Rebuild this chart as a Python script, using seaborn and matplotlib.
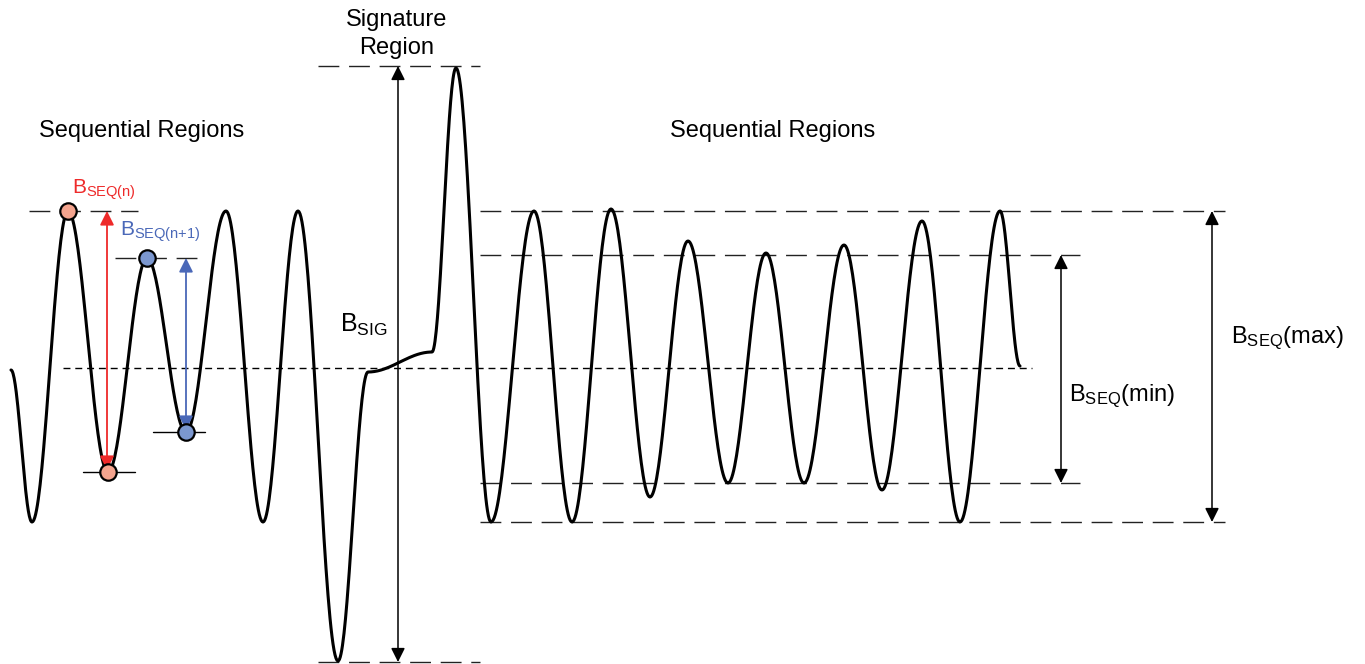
import numpy as np
import pandas as pd
import seaborn as sns
import matplotlib.pyplot as plt

## waveform extrema (pixel-like coords, y grows downward)
wave_x = [11, 32, 68, 108, 147, 186, 226, 263, 298, 338, 368, 432, 456, 491,
          534, 572, 611, 650, 688, 728, 766, 804, 844, 882, 922, 960, 1000, 1020]
wave_y = [370, 522, 211, 472, 258, 432, 211, 522, 211, 661, 372, 352, 68, 522,
          211, 522, 209, 497, 241, 483, 253, 483, 245, 490, 221, 522, 211, 366]

## marker points
red_pts_x = [68, 108]
red_pts_y = [211, 472]
blue_pts_x = [147, 186]
blue_pts_y = [258, 432]

## reference levels
sig_top, sig_bot = 66, 662
seq_max_top, seq_max_bot = 211, 522
seq_min_top, seq_min_bot = 255, 483
center_level = 368

sns.set_theme(style="white")
plt.rcParams['font.family'] = ['Liberation Sans', 'DejaVu Sans']
plt.rcParams['text.color'] = 'black'

# smooth curve through extrema (half-cosine between consecutive points)
xs, ys = [], []
for i in range(len(wave_x) - 1):
    t = np.linspace(0, 1, 40, endpoint=False)
    s = (1 - np.cos(np.pi * t)) / 2
    xs.extend(wave_x[i] + (wave_x[i + 1] - wave_x[i]) * t)
    ys.extend(wave_y[i] + (wave_y[i + 1] - wave_y[i]) * s)
xs.append(wave_x[-1])
ys.append(wave_y[-1])
curve = pd.DataFrame({"x": xs, "y": ys})

fig = plt.figure(figsize=(13.65, 6.64), dpi=100)
ax = fig.add_axes([0, 0, 1, 1])

long_dash = dict(color="#222222", lw=1.0, dashes=(15, 7))
# signature region levels
ax.plot([318, 480], [sig_top, sig_top], **long_dash)
ax.plot([318, 480], [sig_bot, sig_bot], **long_dash)
# sequential levels on the right
ax.plot([480, 1225], [seq_max_top, seq_max_top], **long_dash)
ax.plot([480, 1225], [seq_max_bot, seq_max_bot], **long_dash)
ax.plot([480, 1080], [seq_min_top, seq_min_top], **long_dash)
ax.plot([480, 1080], [seq_min_bot, seq_min_bot], **long_dash)
# left short levels
ax.plot([29, 138], [211, 211], **long_dash)
ax.plot([115, 197], [258, 258], **long_dash)
ax.plot([153, 205], [432, 432], color="black", lw=1.0)
ax.plot([83, 135], [472, 472], color="black", lw=1.0)
# center dashed line
ax.plot([63, 1032], [center_level, center_level], color="black", lw=1.0, dashes=(5, 3.5))

sns.lineplot(data=curve, x="x", y="y", sort=False, estimator=None,
             color="black", lw=2.2, ax=ax)

sns.scatterplot(x=red_pts_x, y=red_pts_y, s=140, color="#f4a48e",
                edgecolor="black", linewidth=1.6, ax=ax, zorder=5)
sns.scatterplot(x=blue_pts_x, y=blue_pts_y, s=140, color="#7b97cf",
                edgecolor="black", linewidth=1.6, ax=ax, zorder=5)

def darrow(x, y0, y1, color="black", lw=1.1):
    ax.annotate("", xy=(x, y1), xytext=(x, y0),
                arrowprops=dict(arrowstyle="<|-|>", color=color, lw=lw,
                                mutation_scale=21, shrinkA=0, shrinkB=0))

darrow(107, 211, 470, color="#ee2a2a", lw=1.3)
darrow(186, 258, 430, color="#4a68b8", lw=1.3)
darrow(398, sig_top, sig_bot)
darrow(1061, seq_min_top, seq_min_bot)
darrow(1212, seq_max_top, seq_max_bot)

ax.text(142, 131, "Sequential Regions", fontsize=17, ha="center", va="center")
ax.text(773, 131, "Sequential Regions", fontsize=17, ha="center", va="center")
ax.text(397, 34, "Signature\nRegion", fontsize=17, ha="center", va="center",
        linespacing=1.3)
ax.text(364, 325, r"$\mathregular{B_{SIG}}$", fontsize=18, ha="center", va="center")
ax.text(104, 190, r"$\mathregular{B_{SEQ(n)}}$", fontsize=15, ha="center",
        va="center", color="#ee2a2a")
ax.text(160, 232, r"$\mathregular{B_{SEQ(n{+}1)}}$", fontsize=15, ha="center",
        va="center", color="#4a68b8")
ax.text(1122, 396, r"$\mathregular{B_{SEQ}}$(min)", fontsize=17, ha="center", va="center")
ax.text(1287, 338, r"$\mathregular{B_{SEQ}}$(max)", fontsize=17, ha="center", va="center")

ax.set_xlim(0, 1365)
ax.set_ylim(664, 0)
ax.set_axis_off()
fig.savefig("out.png", dpi=100)
